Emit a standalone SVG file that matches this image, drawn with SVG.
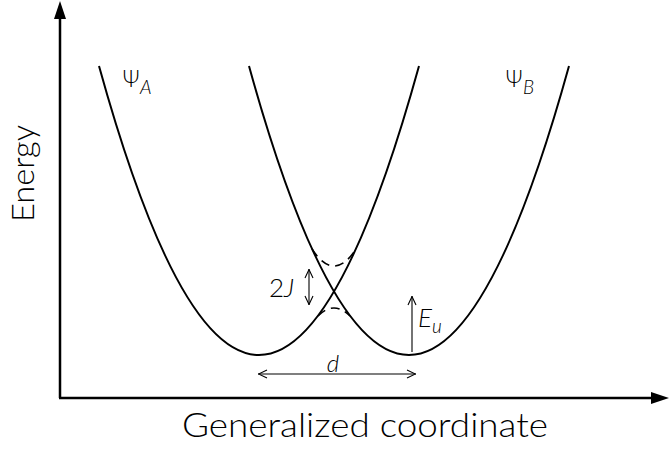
<svg xmlns="http://www.w3.org/2000/svg" width="669" height="453" viewBox="0 0 669 453">
<style>
text{font-family:"Lato","Liberation Sans","DejaVu Sans",sans-serif;font-weight:300;fill:#000}
.gr{font-family:"DejaVu Sans","Liberation Sans",sans-serif;font-weight:200}
.it{font-style:italic}
.curve{fill:none;stroke:#000;stroke-width:2}
.dash{fill:none;stroke:#000;stroke-width:1.6;stroke-dasharray:9 6}
.axis{fill:none;stroke:#000;stroke-width:2.5}
.thin{fill:none;stroke:#000;stroke-width:1.1}
</style>
<defs>
<marker id="ah" viewBox="0 0 10 10" refX="10" refY="5" markerWidth="10" markerHeight="10" markerUnits="userSpaceOnUse" orient="auto-start-reverse">
<path d="M1,1 L9.5,5 L1,9" fill="none" stroke="#000" stroke-width="1.1"/>
</marker>
</defs>
<rect width="669" height="453" fill="#fff"/>
<g id="axes">
<line class="axis" x1="60" y1="398" x2="60" y2="16"/>
<polygon points="60,1 54,19 66,19" fill="#000"/>
<line class="axis" x1="59" y1="398" x2="652" y2="398"/>
<polygon points="669,398 651,392 651,404" fill="#000"/>
</g>
<g id="psiA">
<path class="curve" d="M99,66 Q259,644 419,66"/>
</g>
<g id="psiB">
<path class="curve" d="M249,66 Q409,644 569,66"/>
</g>
<g id="connectors">
<path class="dash" d="M312,249 Q334,283 356,249"/>
<path class="dash" d="M318,316 Q334,300 350,316"/>
<line class="thin" x1="309" y1="269" x2="309" y2="305" marker-start="url(#ah)" marker-end="url(#ah)"/>
<line class="thin" x1="412" y1="352" x2="412" y2="296" marker-end="url(#ah)"/>
<line class="thin" x1="258" y1="374" x2="416" y2="374" marker-start="url(#ah)" marker-end="url(#ah)"/>
</g>
<g id="labels">
<text x="122" y="87" font-size="25"><tspan class="gr" font-size="23">Ψ</tspan><tspan class="it" font-size="19" dy="7">A</tspan></text>
<text x="505" y="87" font-size="25"><tspan class="gr" font-size="23">Ψ</tspan><tspan class="it" font-size="19" dy="7">B</tspan></text>
<text x="269" y="297" font-size="26">2<tspan class="it">J</tspan></text>
<text x="418" y="327" font-size="26" class="it">E<tspan font-size="19" dy="6">u</tspan></text>
<text x="333" y="372" font-size="24" class="it" text-anchor="middle">d</text>
<text x="365" y="437" font-size="34" text-anchor="middle" textLength="366" lengthAdjust="spacingAndGlyphs">Generalized coordinate</text>
<text transform="translate(34,173.5) rotate(-90)" x="0" y="0" font-size="31" text-anchor="middle" textLength="97" lengthAdjust="spacingAndGlyphs">Energy</text>
</g>
</svg>
